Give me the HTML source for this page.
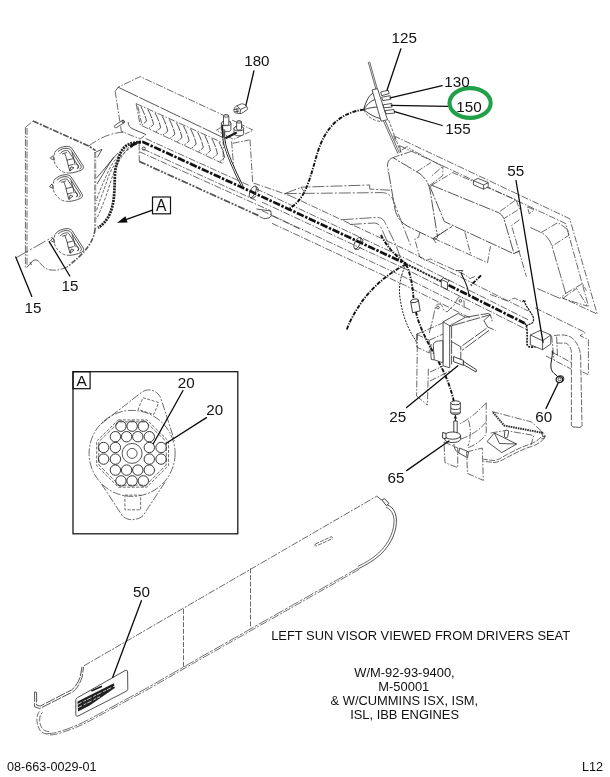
<!DOCTYPE html>
<html><head><meta charset="utf-8"><title>08-663-0029-01</title>
<style>
html,body{margin:0;padding:0;background:#fff;}
body{width:610px;height:777px;overflow:hidden;position:relative;font-family:"Liberation Sans",Arial,sans-serif;}
svg{position:absolute;left:0;top:0;display:block;will-change:transform;}
text{font-family:"Liberation Sans",Arial,sans-serif;fill:#111;}
.n{font-size:15.2px;}
.c{font-size:12.9px;text-anchor:middle;}
.f{font-size:12.6px;}
.l{stroke:#0a0a0a;stroke-width:1.3;fill:none;stroke-linecap:round;}
.t{stroke:#2a2a2a;stroke-width:.8;fill:none;stroke-linejoin:round;}
.tw{stroke:#2a2a2a;stroke-width:.8;fill:#fff;stroke-linejoin:round;}
.d{stroke:#3a3a3a;stroke-width:.75;fill:none;stroke-dasharray:7 1.6 1.6 1.6;stroke-linejoin:round;}
.dw{stroke:#3a3a3a;stroke-width:.75;fill:#fff;stroke-dasharray:7 1.6 1.6 1.6;stroke-linejoin:round;}
.s{stroke:#3a3a3a;stroke-width:.75;fill:none;stroke-dasharray:3 1.5;}
.w{stroke:#111;stroke-width:2;fill:none;stroke-dasharray:4.5 1.3 1.3 1.3;}
.w2{stroke:#111;stroke-width:1.9;fill:none;stroke-dasharray:4 1.3 1.2 1.3;}
.b{stroke:#111;stroke-width:1.25;fill:none;}
</style></head>
<body>
<svg width="610" height="777" viewBox="0 0 610 777">
<rect x="0" y="0" width="610" height="777" fill="#fff"/>


<g>
<!-- panel -->
<path class="d" d="M25.4,127.3 L25.4,267.5 M27,128 L27,266"/>
<path class="d" d="M25.8,127.1 L33,121"/>
<path d="M33,121 L88.8,146.1 L95.6,150.6" fill="none" stroke="#555" stroke-width="1.7" stroke-dasharray="6 1.5 2 1.5"/>
<path class="t" d="M96.2,151.8 L102,149.4 L97.4,157.4"/>
<path d="M95.2,152 L95.2,229" fill="none" stroke="#666" stroke-width="1.9" stroke-dasharray="6 1.4 2 1.4"/><path d="M95.2,153 L95.2,228" fill="none" stroke="#fff" stroke-width=".5"/>
<path d="M95,229 C94,242 84,254 67.2,266.9" fill="none" stroke="#555" stroke-width="1.6" stroke-dasharray="5 1.5 1.5 1.5"/>
<path class="d" d="M67.2,266.9 C60,270.5 52,271 47.5,269.2 C43,267.5 41,264 39.3,262"/>
<path class="t" d="M39.3,262 C37,259.5 35,259.5 32.8,260.8 L26.6,267.6 M30,262 L31.5,265"/>
<path class="d" d="M16.1,257.8 L52.7,237" style="stroke-dasharray:14 2 2 2"/>
<path class="d" d="M88.5,146.3 C100,137 112,133 123.7,132" style="stroke-dasharray:9 2 2 2"/>
<!-- knobs -->
<g transform="translate(67.4 159.3)">
<path d="M-12.5,-7.3 C-10,-11 -5,-13 -0.6,-13 C2,-13 3.5,-12 4.6,-10.8 L15.8,6.6 C16.5,8.5 15.5,10 13.8,10.7 C10,12.5 6,13.5 2.4,13.7 C-2,14 -5,12.5 -6.8,11.2 C-10,8.5 -12.5,5.5 -13,2.5 C-13.8,-1 -13.5,-4.5 -12.5,-7.3Z" fill="#fff"/><path class="t" d="M-12.5,-7.3 C-10,-11 -5,-13 -0.6,-13 C2,-13 3.5,-12 4.6,-10.8 L15.8,6.6 C16.5,8.5 15.5,10 13.8,10.7 C10,12.5 6,13.5 2.4,13.7"/><path class="s" d="M2.4,13.7 C-2,14 -5,12.5 -6.8,11.2 C-10,8.5 -12.5,5.5 -13,2.5 C-13.8,-1 -13.5,-4.5 -12.5,-7.3"/>
<path class="t" d="M-9.5,-7.6 C-6.5,-10.5 -3,-11.3 -0.5,-11 C1.5,-10.8 2.8,-10 3.6,-9 L13.6,6.5 C14.2,8 13.6,9 12.2,9.6"/>
<path class="t" d="M-7.5,-5.5 C-5,-8.6 -1,-9.3 1,-8.3 L11,6.8 C11.4,8 10.6,8.8 9.4,9.2"/>
<path class="t" d="M-2.7,-5.8 C-1,-2 0,2 0.4,4.5 L2.4,11.7 M-5.3,-5.3 L-0.6,-6.8 M-0.6,0.9 L5.5,-0.6 M4.5,-6.8 C6,-3 7,1 7.6,5.5 M0.6,6.3 L6,5 M8.6,4.5 C10.5,5 11.5,7 10.5,9.3 M2.4,11.7 L6.5,8.5 L3.5,7.5Z"/>
<path class="tw" d="M-17.1,-1.1 L-14.5,-3.7 L-13.2,0.9Z"/>
</g>
<g transform="translate(66.5 187.7)">
<path d="M-12.5,-7.3 C-10,-11 -5,-13 -0.6,-13 C2,-13 3.5,-12 4.6,-10.8 L15.8,6.6 C16.5,8.5 15.5,10 13.8,10.7 C10,12.5 6,13.5 2.4,13.7 C-2,14 -5,12.5 -6.8,11.2 C-10,8.5 -12.5,5.5 -13,2.5 C-13.8,-1 -13.5,-4.5 -12.5,-7.3Z" fill="#fff"/><path class="t" d="M-12.5,-7.3 C-10,-11 -5,-13 -0.6,-13 C2,-13 3.5,-12 4.6,-10.8 L15.8,6.6 C16.5,8.5 15.5,10 13.8,10.7 C10,12.5 6,13.5 2.4,13.7"/><path class="s" d="M2.4,13.7 C-2,14 -5,12.5 -6.8,11.2 C-10,8.5 -12.5,5.5 -13,2.5 C-13.8,-1 -13.5,-4.5 -12.5,-7.3"/>
<path class="t" d="M-9.5,-7.6 C-6.5,-10.5 -3,-11.3 -0.5,-11 C1.5,-10.8 2.8,-10 3.6,-9 L13.6,6.5 C14.2,8 13.6,9 12.2,9.6"/>
<path class="t" d="M-7.5,-5.5 C-5,-8.6 -1,-9.3 1,-8.3 L11,6.8 C11.4,8 10.6,8.8 9.4,9.2"/>
<path class="t" d="M-2.7,-5.8 C-1,-2 0,2 0.4,4.5 L2.4,11.7 M-5.3,-5.3 L-0.6,-6.8 M-0.6,0.9 L5.5,-0.6 M4.5,-6.8 C6,-3 7,1 7.6,5.5 M0.6,6.3 L6,5 M8.6,4.5 C10.5,5 11.5,7 10.5,9.3 M2.4,11.7 L6.5,8.5 L3.5,7.5Z"/>
<path class="tw" d="M-17.1,-1.1 L-14.5,-3.7 L-13.2,0.9Z"/>
</g>
<g transform="translate(67.6 241.6)">
<path d="M-12.5,-7.3 C-10,-11 -5,-13 -0.6,-13 C2,-13 3.5,-12 4.6,-10.8 L15.8,6.6 C16.5,8.5 15.5,10 13.8,10.7 C10,12.5 6,13.5 2.4,13.7 C-2,14 -5,12.5 -6.8,11.2 C-10,8.5 -12.5,5.5 -13,2.5 C-13.8,-1 -13.5,-4.5 -12.5,-7.3Z" fill="#fff"/><path class="t" d="M-12.5,-7.3 C-10,-11 -5,-13 -0.6,-13 C2,-13 3.5,-12 4.6,-10.8 L15.8,6.6 C16.5,8.5 15.5,10 13.8,10.7 C10,12.5 6,13.5 2.4,13.7"/><path class="s" d="M2.4,13.7 C-2,14 -5,12.5 -6.8,11.2 C-10,8.5 -12.5,5.5 -13,2.5 C-13.8,-1 -13.5,-4.5 -12.5,-7.3"/>
<path class="t" d="M-9.5,-7.6 C-6.5,-10.5 -3,-11.3 -0.5,-11 C1.5,-10.8 2.8,-10 3.6,-9 L13.6,6.5 C14.2,8 13.6,9 12.2,9.6"/>
<path class="t" d="M-7.5,-5.5 C-5,-8.6 -1,-9.3 1,-8.3 L11,6.8 C11.4,8 10.6,8.8 9.4,9.2"/>
<path class="t" d="M-2.7,-5.8 C-1,-2 0,2 0.4,4.5 L2.4,11.7 M-5.3,-5.3 L-0.6,-6.8 M-0.6,0.9 L5.5,-0.6 M4.5,-6.8 C6,-3 7,1 7.6,5.5 M0.6,6.3 L6,5 M8.6,4.5 C10.5,5 11.5,7 10.5,9.3 M2.4,11.7 L6.5,8.5 L3.5,7.5Z"/>
<path class="tw" d="M-17.1,-1.1 L-14.5,-3.7 L-13.2,0.9Z"/>
</g>
<!-- wire bundle to panel -->
<path d="M141,142 C133,142.5 129,144 126.3,145.6 C122,149 120,153 118.5,158.3 C116,166 115,170 114.9,175.3 C114.6,183 114.6,188 114.2,193.8 C113.6,203 112,209 109.3,215 C106.5,221 102,225.5 97.9,227.8" fill="none" stroke="#222" stroke-width="2.8" stroke-dasharray="2 .9"/>
<path class="s" d="M137,143.5 C124,148 113,160 108,172 C103,183 98.5,193 96.5,201"/>
<path class="s" d="M133,146.5 C122,152 112,166 108,178 C104,190 99,202 96.5,211"/>
<path class="s" d="M128,149 C120,157 114,170 110,184 C106,197 101,210 96.5,219"/>
<path class="t" d="M118,153 C111,160 104,170 96.5,178 M114,157 C108,165 102,176 97,184"/>
</g>

<g>
<path class="d" d="M115.2,91.3 L118.1,87.2 L140.2,76.6 L223.7,115.4"/>
<path class="t" d="M118.1,87.2 L222.9,137.5" style="stroke-dasharray:22 1.5"/>
<path class="d" d="M115.2,91.3 L121.4,131.5 L140.2,138.9 L146,134.6"/>
<path class="t" d="M128,122 C128.5,126 130,127.5 133,129 L146,134.6"/>
<path class="tw" d="M114.6,125.6 L122.2,120.6 C123.3,120 124.8,121.6 124,122.8 L116.4,127.6 C115,128.3 113.6,126.6 114.6,125.6Z"/>
<ellipse class="t" cx="123.2" cy="121.6" rx="1.1" ry="1.5" transform="rotate(-30 123.2 121.6)"/>
<path class="d" d="M136.1,103.6 L222.5,142.7 M136.1,103.6 L140.2,124.9 L222.5,163.4"/>
<path class="d" d="M137.8,106.5 L141.6,123.4"/>
<path class="t" d="M140.9,106.6 Q144.9,113.9 146.5,121.2 L141.7,125.1 M148.0,109.8 Q152.0,117.1 153.6,124.5 L148.8,128.5 M155.1,113.0 Q159.1,120.4 160.7,127.8 L155.9,131.8 M162.2,116.2 Q166.2,123.6 167.8,131.1 L163.0,135.1 M169.3,119.4 Q173.3,126.9 174.9,134.3 L170.1,138.4 M176.4,122.7 Q180.4,130.1 182.0,137.6 L177.2,141.7 M183.5,125.9 Q187.5,133.4 189.1,140.9 L184.3,145.1 M190.6,129.1 Q194.6,136.6 196.2,144.2 L191.4,148.4 M197.7,132.3 Q201.7,139.9 203.3,147.5 L198.5,151.7 M204.8,135.5 Q208.8,143.2 210.4,150.8 L205.6,155.0 M211.9,138.7 Q215.9,146.4 217.5,154.1 L212.7,158.4 M219.0,142.0 Q223.0,149.7 224.6,157.4 L219.8,161.7 " style="stroke-dasharray:9 1.2"/>
<path class="d" d="M223.2,138.4 L223.2,162.5"/>
<path class="d" d="M231.6,141.5 L233.8,168.5 M232.7,143.3 L249,140 M250,139.5 L252.7,183.4"/>
<path class="d" d="M216.3,130.2 L232.7,120.3 L253.2,130.2 L233.5,139.4 Z" style="stroke-dasharray:5 1.4 1.4 1.4"/>
<path class="tw" d="M221.4,123.6 L221.4,129.6 A4.75,2.1375 0 0 0 230.9,129.6 L230.9,123.6 A4.75,2.1375 0 0 0 221.4,123.6Z"/><ellipse class="tw" cx="226.15" cy="123.6" rx="4.75" ry="2.14"/>
<path class="tw" d="M234,128.6 L234,133.6 A4.799999999999997,2.159999999999999 0 0 0 243.6,133.6 L243.6,128.6 A4.799999999999997,2.159999999999999 0 0 0 234,128.6Z"/><ellipse class="tw" cx="238.8" cy="128.6" rx="4.799999999999997" ry="2.16"/>
<path class="tw" d="M223.5,116 L223.5,124.2 A2.6500000000000057,1.1925000000000026 0 0 0 228.8,124.2 L228.8,116 A2.6500000000000057,1.1925000000000026 0 0 0 223.5,116Z"/><ellipse class="tw" cx="226.15" cy="116" rx="2.6500000000000057" ry="1.19"/>
<path class="tw" d="M236.6,122 L236.6,129 A2.450000000000003,1.1025000000000014 0 0 0 241.5,129 L241.5,122 A2.450000000000003,1.1025000000000014 0 0 0 236.6,122Z"/><ellipse class="tw" cx="239.05" cy="122" rx="2.450000000000003" ry="1.10"/>
<path d="M223.9,129.5 C223.4,136 223.8,141 225.2,146 C227.5,154 232,166 242.6,187" fill="none" stroke="#1a1a1a" stroke-width="2.6"/>
<path d="M223.9,129.5 C223.4,136 223.8,141 225.2,146 C227.5,154 232,166 242.6,187" fill="none" stroke="#fff" stroke-width="1"/>
<path d="M236.8,132.4 L225.4,138.2" fill="none" stroke="#1a1a1a" stroke-width="2.2"/>
<path d="M222.3,125 L223,137.5" fill="none" stroke="#1a1a1a" stroke-width="1.6"/>
<path class="tw" d="M233.9,109.3 C234.5,107.5 235.5,106.4 236.8,105.8 L241.3,103.9 C243,103.4 245,104.6 246.4,106.2 C247.4,107.3 247.9,108.4 247.5,109.3 L243.1,112.5 C242,113.2 241,113.6 239.9,113.6 L235.4,112.9 C234.2,112.4 233.6,110.8 233.9,109.3Z"/>
<path class="t" d="M240.6,109.4 L246.8,106.6 M240.6,109.4 L240,113.5 M240.6,109.4 L237,106 M233.9,109.6 L239.6,108.8 M234.6,111.8 L239.2,111 M236.6,108 L237.4,112.6"/>
</g>
<g>
<path class="d" d="M139.2,143.4 L139.2,161 M139.2,151.6 L270.3,210.6 M145.7,138.6 L250.7,186.2 M143,149 L256,200.4"/>
<path d="M139.2,161.4 L262,217.2" fill="none" stroke="#555" stroke-width="1.8" stroke-dasharray="7 1.5 2 1.5 2 1.5"/>
<circle class="t" cx="143.8" cy="148.6" r="1.6"/>
<path class="tw" d="M256.5,209 L270.8,211 L271.4,215.8 C270.5,217.6 268,218.6 265.2,218.5 C263,218.4 261.5,217.8 260.6,217"/>
<path class="d" d="M253.4,183 L290,195.7"/>
<path class="d" d="M290.0,195.7 L405.9,249.8 L524.6,309.2 L528.0,310.9" />
<path class="d" d="M256.0,188.7 L405.9,258.6 L524.6,318.0 L528.0,319.7" />
<path class="d" d="M262.0,202.1 L405.9,269.2 L524.6,328.6 L528.0,330.3" />
<path class="d" d="M262.0,210.7 L405.9,277.8 L470.0,309.9" />
<path class="d" d="M272.0,223.3 L405.9,285.8 L470.0,317.9" />
<path class="d" d="M271.6,215.5 L300,229.2"/>
<path class="w" d="M130,146.5 C134,144 138,142 143,142 L252.6,192.3 L405.9,263.8" style="stroke-width:2.7;stroke-dasharray:7.5 1.6 2.4 1.6"/>
<path class="w" d="M405.9,263.8 L441.5,281.6" style="stroke-width:1.9;stroke-dasharray:2.2 .9;stroke:#222"/>
<path class="w" d="M448.5,285.1 L524.6,323.2" style="stroke-width:2.7;stroke-dasharray:7.5 1.6 2.4 1.6"/>
<path class="w2" d="M524.6,323.4 C527,325 527.4,328 527,344 C527.5,347 530,348.4 538.5,345.6" style="stroke-width:1.6;stroke-dasharray:2 1"/>
<g transform="translate(252.8 191.8) rotate(25)"><ellipse class="tw" cx="0" cy="0" rx="2.6" ry="6.2" style="fill-opacity:.0"/><path class="t" d="M0,-6.2 L2.2,-5.9 M0,6.2 L2.2,5.9 M2.2,-5.9 A2.6,6.2 0 0 1 4.6,-2 M2.2,5.9 A2.6,6.2 0 0 0 4.6,2"/></g>
<g transform="translate(357.4 243.2) rotate(25)"><ellipse class="tw" cx="0" cy="0" rx="2.6" ry="6.2" style="fill-opacity:.0"/><path class="t" d="M0,-6.2 L2.2,-5.9 M0,6.2 L2.2,5.9 M2.2,-5.9 A2.6,6.2 0 0 1 4.6,-2 M2.2,5.9 A2.6,6.2 0 0 0 4.6,2"/></g>
<path class="tw" d="M441.3,279.5 L447.5,282.4 L447.5,289.5 L441.3,286.6Z M441.3,279.5 L443.5,278 L449.5,280.8 L447.5,282.4" style="fill-opacity:0"/>
<path class="w2" d="M364,109.6 C352,111 341,116 333,124.5 C323,135 319,147 315.2,160.5 C312,172 309,182 305.2,190.6 C301,199 295,205.5 287.6,209.9"/>
<path class="w2" d="M381,235 C386,246 396,256 406,264"/>
<path class="w2" d="M406,264.5 C390,272 372,287 361,303 C354,313 349,323 346.5,330.5"/>
<path class="s" d="M406,264.5 C400,276 398.5,288 400,298 C402,312 406,325 413.5,337 L417,343" style="stroke:#222;stroke-width:1;stroke-dasharray:2 1.2"/>
<path class="w2" d="M406,264.5 C410,272 412.5,284 413.5,298 M416,312 C418,322 424,336 432,350 C440,364 449,380 453.8,401"/>
<path class="t" d="M461,272.5 C463,279 468,284 468.9,295.5" style="stroke-width:1.1;stroke:#111"/>
<path class="w2" d="M481,275.4 L470,286.2"/>
<path class="t" d="M456,270.5 L463,270.5 L461,272.5"/>
<path class="t" d="M522.4,301.6 L523.8,300.5 L525.6,301.4 M523.8,300.5 C526,306 530,311 532.8,316 C534,319 533.8,321.5 532,323 L526.2,325.9" style="stroke:#111;stroke-width:1.2;stroke-dasharray:2.2 .8"/>
</g>
<g>
<!-- rod through connector 125 -->
<path class="t" d="M368.2,62 L376,89.5 M369.6,61.6 L377.2,88.6 M383.5,121 L397.8,153.5 M385.1,120.6 L399.4,153" style="stroke-width:.7"/>
<path class="s" d="M388.6,120 L401,153"/>
<!-- wire fan -->
<path class="t" d="M363.7,109.6 C366,100 370,94 374.5,92.2 M363.7,109.6 C368,103 372,100 376.4,99.4 M363.7,109.6 C369,108 374,107 378.6,107 M363.7,109.6 C369,114 375,117.5 380.6,118.6" style="stroke:#111"/>
<path class="s" d="M363.7,109.6 C367,117 374,121 381,121.5"/>
<!-- connector body -->
<path class="tw" d="M372.1,89.9 L377.5,88.6 L387.5,119.7 L381.1,121.2Z"/>
<path class="tw" d="M380.7,92 L388.1,90.3 L389.2,93.5 L381.7,95.7Z M381.7,97.2 L390.2,95.7 L390.7,99.3 L382.8,100.6Z M383.2,104.8 L391.7,103.5 L392,107 L383.9,107.8Z M384.9,110.6 L393.9,109.5 L394.5,113.1 L386,113.8Z"/>
<!-- console outer frame -->
<path class="d" d="M393.6,135.7 L569.7,218.7 L597.2,314.1 L562,297.6"/>
<path class="d" d="M399.5,145.6 L565.7,223.6 L588.4,306.2"/>

<path class="d" d="M393.6,135.7 L395.5,141 M399.5,145.6 L402,157"/>
<path class="d" d="M402,150 L407,146.5 L413.3,150.7"/>
<!-- pod 1 -->
<path class="tw" d="M393,157.6 C389,159 387.2,162 387.6,166.5 L394.6,207 C396,216 400,222 408,226.5 L433,238.6 C436,239.8 437.6,238.6 437.4,236 L430.2,191 C429,183 424,175.5 416.6,171.8 Z" style="stroke-dasharray:12 1.5 2 1.5"/>
<path class="d" d="M393,157.6 L413.3,150.7 L442.8,166.4 L431,176.5 M416.6,171.8 L431,162.5 M429,186 L442.8,175.6 L442.8,166.4 M437.4,236 L447.5,229.5 M433,238.6 L436,243"/>
<!-- pod 2 -->
<path class="tw" d="M431.6,185.2 C430.6,186 430.4,187 430.8,188.6 L444.3,221.5 L514.1,253.9 L505,222.5 C504,217.6 502,214.4 498.4,212.6 Z" style="stroke-dasharray:12 1.5 2 1.5"/>
<path class="d" d="M431.6,185.2 L452.6,172.6 L516,199.8 L498.4,212.6 M516,199.8 L519.5,208.9 L503.8,218.7"/>
<path class="tw" d="M473.4,180.6 L478,178.4 L488.2,182.6 L488.2,186.8 L483.6,189.2 L473.4,184.8Z"/>
<path class="t" d="M473.4,180.6 L483.6,185 L488.2,182.6 M483.6,185 L483.6,189.2"/>
<!-- pod 3 -->
<path class="tw" d="M530.3,227.5 L541.2,232.5 C546,235 550,240 552,246.2 L565.7,293.4 L559.8,298.4 L537.2,288.5 L526.4,276.7 L511.6,225.6 L519.5,219.7 Z" style="stroke:none"/>
<path class="d" d="M530.3,227.5 L541.2,232.5 C546,235 550,240 552,246.2 L565.7,293.4 L559.8,298.4 L537.2,288.5" style="stroke-dasharray:12 1.5 2 1.5"/>
<path class="d" d="M541.2,232.5 L557.9,222.6 L567.7,229.5 L568.7,235.4 L552,246.2 M565.7,293.4 L582.5,283.6 L586.4,290.5 M562.8,298.4 L576.6,288.5 L587.4,306.2 Z"/>
<path class="d" d="M519.5,219.7 L511.6,225.6 L526.4,276.7 M514.6,253.1 L519.5,251.1 M527.4,206.9 L534.3,209.8 L529.3,213.8Z"/>
<!-- lower shelf below pods -->
<path class="t" d="M433.4,238.2 L452.1,226.4" style="stroke-dasharray:8 1.5"/>
<path class="d" d="M419.7,232.3 L418.7,237.2 L414.8,239.2 L419.7,256.9 L425.6,260.8 L430.5,258.9 L434.5,261 L464.9,274.6 L470,278.5 L476,276"/>
<path class="d" d="M433.4,238.2 L487.5,262.8 L490.5,246 M464.9,232.3 L470.8,254.9"/>
<path class="d" d="M514.6,253.1 L519.5,251.1"/>
<!-- phantom outlines left of pods -->
<path class="d" d="M304.8,192.6 L301,187.2 L369.7,185 L369.7,189.1 L390,190.2" style="stroke-dasharray:12 2 2 2"/>
<path class="d" d="M284.8,193.6 L301,187.4 M284.8,193.6 L382.3,192.6 C388,193 391,195.5 392.8,199.3 L411,246.6" style="stroke-dasharray:12 2 2 2"/>
<path class="d" d="M341.6,219.7 L377,217.4 C382,217.6 384,220 385.5,223.5 L395.4,244 L401,259" style="stroke-dasharray:12 2 2 2"/>
<path class="d" d="M349.8,224.5 L374,223 C378,223.2 380,225.4 381.5,228.5 L391,250" style="stroke-dasharray:12 2 2 2"/>
</g>

<g>
<!-- 55 leader, switch -->
<path class="tw" d="M530.3,335 L540.2,330.4 L550.8,335 L550.8,344 L542.6,349.7 L530.3,344.8Z"/>
<path class="t" d="M530.3,335 L542.6,340.7 L550.8,335 M542.6,340.7 L542.6,349.7"/>
<line class="l" x1="516" y1="180.5" x2="543" y2="342.3"/>
<path class="d" d="M490,294.4 L508.2,301.3 L514,298 L523,302.1 M535.2,307.9 L585.3,332.5 L580.1,335.6 L588.4,339.7 L588.4,374.7 L582.6,372"/>
<path class="d" d="M551.6,335.7 L554,360 M556.6,336.6 L557.5,356"/>
<path class="d" d="M554,335.7 C560,334.6 566,334.4 570.5,337 C576,340.4 579.5,347 580.6,355 L582,425.6 M556.6,343.1 L565.6,343.1 C568.6,344 570.8,347 571.4,352 L571.4,425.6" style="stroke-dasharray:6 1.5"/>
<path class="t" d="M571.4,425.6 C573,428 575,426.6 577,427.2 C579,427.8 581,427.6 582,425.6"/>
<path class="d" d="M552,352 L571,362.4 M546,356 L571,369"/>
<!-- wire to 60 grommet -->
<path class="t" d="M552.3,350.5 C553,357 550,363 551,368 C552,373 555.5,374 558,377" style="stroke:#111;stroke-width:1"/>
<ellipse class="tw" cx="560.4" cy="378.8" rx="3.5" ry="3.2" style="stroke:#222;stroke-width:1"/><ellipse class="tw" cx="559.4" cy="379.6" rx="3.3" ry="3" style="stroke:#111;stroke-width:1.1"/>
<ellipse class="t" cx="559.6" cy="379.4" rx="1.6" ry="1.4" style="stroke:#333"/>
<line class="l" x1="558.2" y1="383" x2="546" y2="408.4"/>
<!-- right wall -->

<!-- ears -->
<path class="d" d="M429.3,333 L432.6,319.9 L435.2,308.1 C435.8,305 437,304 439,304 C441.4,304 442.6,306 443.1,309.4 L447,312 L454.3,304.8 L458.2,297.6 C459.4,296.4 461,296.4 462.1,297 C463.6,298.4 464.1,300.4 464.1,302.9 L464.1,308.1" style="stroke-dasharray:9 1.5 2 1.5"/>
<circle class="t" cx="437.9" cy="307.5" r="1.3"/><circle class="t" cx="460.4" cy="300.9" r="1.3"/>
<!-- beam to right -->
<path class="t" d="M451.6,325.8 L490.3,314.7 M465.4,317.3 L488.4,313.4 L490.3,314.7 L492.3,321.2 M483.8,320.6 L487.7,327.1 L495.6,330.4 M483.8,320.6 L490.3,314.7 M486.4,328.4 L460.8,346.8 M489,330.4 L462.1,350.4" style="stroke-dasharray:14 1.5"/>
<!-- vertical plate -->
<path class="tw" d="M443.1,321.9 L458.2,313.4 L465.4,317.3 L449.7,325.8 L449.7,367.8 L443.1,365.8Z"/>
<path class="t" d="M443.1,321.9 L449.7,325.8 M449.7,325.8 L451.6,326.5 L451.6,364.5 M451.6,341.6 L460.8,346.8 L460.8,359.3 L455,362" style="stroke-dasharray:14 1.5"/>
<!-- left box + relay -->
<path class="d" d="M416.6,334.3 L429.3,340.2 L429.3,353 L416.6,347Z M416.6,334.3 L443,322.8 M429.3,340.2 L443,334"/>
<path class="tw" d="M433.3,345.5 C433.3,342.5 436,341 438.5,341 L442.8,340.6 L442.8,362.8 L434.3,359.8Z"/>
<path class="t" d="M431,344 C431,350 430.6,356 431.4,359.6 L434.3,359.8"/>
<!-- plunger -->
<path class="tw" d="M453.6,356.6 L463.4,360.4 L463.4,365.4 L453.6,361.6Z" style="stroke:#111"/>
<path class="tw" d="M463.4,361.4 L476.6,369.8 L476,372 L463.4,364.6Z" style="stroke:#111"/>
<!-- phantom pillar -->
<path class="d" d="M417.5,333.3 L416.6,396 M428.4,368.7 L427.4,405 M416.6,396 L427.4,405 M430,372 L443,366 M430,381 L450,371"/>
<!-- 25, 65 leaders -->
<line class="l" x1="406.6" y1="407.6" x2="457.9" y2="365.7"/>
<line class="l" x1="406.6" y1="470.6" x2="448.9" y2="441"/>
<!-- connector cylinders on harness -->
<path class="tw" d="M410.7,301.6 L418.3,299.8 L420.2,310.8 L412.6,312.8Z" style="stroke:#111"/>
<ellipse class="tw" cx="414.5" cy="300.8" rx="3.9" ry="1.7" transform="rotate(-13 414.5 300.8)" style="stroke:#111"/>
<path class="tw" d="M450.8,402.8 L460.3,402.8 L460.3,413 L450.8,413Z" style="stroke:#111"/>
<ellipse class="tw" cx="455.5" cy="402.8" rx="4.75" ry="2" style="stroke:#111"/>
<path class="t" d="M450.8,408 C452,410 459,410 460.3,408 M450.8,413 C452,415 459,415 460.3,413" style="stroke:#111"/>
<!-- pin + clamp 65 -->
<path class="t" d="M455.4,415 L455.4,422 M454.3,418.5 L455.4,416 L456.5,418.5" style="stroke:#111;stroke-width:1"/>
<path class="tw" d="M453.8,421 L457.2,421 L457.2,436 L453.8,436Z" style="stroke:#111"/>
<ellipse class="tw" cx="452.6" cy="435.6" rx="8" ry="3.6" style="stroke:#111"/>
<path class="t" d="M444.6,435.6 L444.6,439.6 C446,443.5 459,443.5 460.6,439.6 L460.6,435.6" style="stroke:#111"/>
<path class="tw" d="M442.6,432.4 L446,433.4 L446,439 L442.6,438Z" style="stroke:#111"/>
<!-- phantom rects under clamp -->
<path class="d" d="M444,442 L457.7,448 L457.7,467.6 L445,462.7 Z"/>
<path class="d" d="M466.6,451.9 L482.3,448 L483.3,480.4 L467.5,473.5Z"/>
<path class="t" d="M459.7,448 L468.5,451.9 L467.5,457.8 L458.7,452.9Z M454,444 C454,448 456,452 459,453"/>
<!-- curved panel -->
<path class="d" d="M486.2,402.7 C478,412 468,420 458.7,424.3 M486.2,402.7 L486.2,434.2 C481,441 474,446 467,448 M468.5,420.4 C471,428 471,438 468,446 M461,439 C470,436 480,430 486.2,422"/>
<!-- pedal / tray assembly -->
<path d="M493,412.3 L504.3,425.6 L543.4,433" fill="none" stroke="#333" stroke-width="2" stroke-dasharray="1.6 .8"/>
<path class="d" d="M492,411.6 L531.3,421.9 L543.6,433 L544.8,437.9 L541,439"/>
<path class="t" d="M541,431 L543,437 L546,436"/>
<path class="d" d="M544.8,437.9 C540,443 536,445 531.3,446.5 C523,449 516,453 509.2,456.3 C504,459 500,462 494,462.6 L483.4,461.2 M541,437 C537,441.4 533,443 529.5,444.4 C521,447 514,451 507.5,454.3 C502,457 499,460 494,460.6 L483.4,459.2" style="stroke-dasharray:6 1.4"/>
<path class="d" d="M490.7,433 L505.5,430.5 L533.8,435.4 L531,445"/>
<path class="t" d="M487,441.6 L494.4,433 L516.6,444 L501.8,452.6Z M494.4,433 L499.5,443.5 L516.6,444"/>
<path class="tw" d="M504.8,431.2 C505.4,429.4 508.4,430 508.6,432 L507.6,437 C507,438.5 504.4,438 504.4,436.2Z"/>
</g>

<g>
<circle class="d" cx="132.1" cy="453.4" r="43" style="stroke-dasharray:8 1.6 2 1.6"/>
<path class="d" d="M101,424 L141,392.8 C146,389 155,387.5 160.7,397.7 L174.6,441 M101.5,484 L122.3,515.7 C127,521 137,521 143,515.7 L165.5,481.5" style="stroke-dasharray:8 1.6 2 1.6"/>
<path class="s" d="M143,397.7 L158.7,402.6 L153.8,414.4 L138,409.5Z"/>
<path class="s" d="M124.9,495.1 L140.6,495.1 L140.6,509.8 L124.9,509.8Z"/>
<path class="s" d="M118.4,419.9 L146.9,419.9 L168.5,441 L168.5,465.6 L146.9,487.2 L118.4,487.2 L96.7,465.6 L96.7,441Z"/>
<path class="s" d="M119.2,421.9 L146.0,421.9 L166.3,441.7 L166.3,464.9 L146.0,485.2 L119.2,485.2 L98.8,464.9 L98.8,441.7Z" style="stroke-dasharray:4 1.5"/>
<circle class="t" cx="120.9" cy="426.2" r="5.2" style="stroke:#222;stroke-width:.9"/>
<circle class="t" cx="132.1" cy="426.2" r="5.2" style="stroke:#222;stroke-width:.9"/>
<circle class="t" cx="143.3" cy="426.2" r="5.2" style="stroke:#222;stroke-width:.9"/>
<circle class="t" cx="115.4" cy="436.7" r="5.2" style="stroke:#222;stroke-width:.9"/>
<circle class="t" cx="126.6" cy="436.7" r="5.2" style="stroke:#222;stroke-width:.9"/>
<circle class="t" cx="137.8" cy="436.7" r="5.2" style="stroke:#222;stroke-width:.9"/>
<circle class="t" cx="149.3" cy="436.7" r="5.2" style="stroke:#222;stroke-width:.9"/>
<circle class="t" cx="103.6" cy="447.5" r="5.2" style="stroke:#222;stroke-width:.9"/>
<circle class="t" cx="115.4" cy="447.5" r="5.2" style="stroke:#222;stroke-width:.9"/>
<circle class="t" cx="149.3" cy="447.5" r="5.2" style="stroke:#222;stroke-width:.9"/>
<circle class="t" cx="161.1" cy="447.5" r="5.2" style="stroke:#222;stroke-width:.9"/>
<circle class="t" cx="103.6" cy="459.1" r="5.2" style="stroke:#222;stroke-width:.9"/>
<circle class="t" cx="115.4" cy="459.1" r="5.2" style="stroke:#222;stroke-width:.9"/>
<circle class="t" cx="149.3" cy="459.1" r="5.2" style="stroke:#222;stroke-width:.9"/>
<circle class="t" cx="161.1" cy="459.1" r="5.2" style="stroke:#222;stroke-width:.9"/>
<circle class="t" cx="115.4" cy="470.1" r="5.2" style="stroke:#222;stroke-width:.9"/>
<circle class="t" cx="126.6" cy="470.1" r="5.2" style="stroke:#222;stroke-width:.9"/>
<circle class="t" cx="137.8" cy="470.1" r="5.2" style="stroke:#222;stroke-width:.9"/>
<circle class="t" cx="149.3" cy="470.1" r="5.2" style="stroke:#222;stroke-width:.9"/>
<circle class="t" cx="120.9" cy="480.9" r="5.2" style="stroke:#222;stroke-width:.9"/>
<circle class="t" cx="132.1" cy="480.9" r="5.2" style="stroke:#222;stroke-width:.9"/>
<circle class="t" cx="143.3" cy="480.9" r="5.2" style="stroke:#222;stroke-width:.9"/>
<circle class="t" cx="132.1" cy="453.4" r="10"/>
<circle class="t" cx="132.1" cy="453.4" r="5"/>
</g>
<g>
<!-- top edge -->
<path class="s" d="M84,665.8 L376.7,496.2" style="stroke-dasharray:7 1.5 2 1.5"/>
<!-- right end -->
<path class="t" d="M376.7,496.2 L382,500.2 M387.5,505.2 C392,506.5 395.6,511 396.4,519 C397,530 392,544 380,555 C373,561 366,565 358.7,568.6" style="stroke-width:.8"/>
<path class="t" d="M385.8,507.4 C390,508.6 393.2,512.5 394,519.4 C394.6,529 390,542.4 378.6,553 C372,559 365,563 358,566.4" style="stroke-width:.7"/>
<path class="tw" d="M382,500.2 L384.4,498.6 L389,503.4 L386.4,505.6Z" style="stroke:#111"/>
<!-- bottom edge double -->
<path class="t" d="M358.7,568.6 L200,658.5 L147.9,688.4 L90,719.8 C80,725 72,728.4 62,731.6 C56,733.6 51,734.5 47.7,734.2" transform="translate(-.4,-.7)" style="stroke:#444;stroke-width:.75;stroke-dasharray:11 1.6 3 1.6"/>
<path class="t" d="M358.7,568.6 L200,658.5 L147.9,688.4 L90,719.8 C80,725 72,728.4 62,731.6 C56,733.6 51,734.5 47.7,734.2" transform="translate(.4,.75)" style="stroke:#444;stroke-width:.75;stroke-dasharray:8 1.6 2 1.6"/>
<!-- left end -->
<path class="d" d="M47.7,734.2 C43,733.5 40.5,731.5 39.2,728.9 C37.5,725.5 36.6,722 37,718.2 C37.4,714.5 38.5,712 40.5,710.5 M49,731.6 C45,731.2 42.8,729.6 41.6,727.4 C40,724.6 39.4,721.6 39.7,718.6 C40,715.6 41,713.4 42.6,712.2" style="stroke-dasharray:6 1.5"/>
<!-- hook clip -->
<path class="t" d="M34.6,691.8 L34.6,706.8 L39.7,708.6 L72.5,692 C77,689 80,683 82,677.6 L83.6,667 M36.6,692.4 L36.6,705 L40,706.2 L71.5,690 C75.5,687 78.4,682 80.2,677 L82,666.8 M34.6,691.8 L36.6,692.4" style="stroke-dasharray:10 1.4"/>
<!-- vertical dashed -->
<path class="s" d="M183.5,609 L183.5,668.8 M250.5,568.4 L250.5,628.4" style="stroke-dasharray:5 1.6"/>
<!-- slot -->
<path class="s" d="M315.4,544 L331,536.8 C332.4,536.6 332.8,538 331.8,538.8 L316.4,546 C315,546.4 314.4,544.8 315.4,544Z" style="stroke-dasharray:4 1.2"/>
<!-- label -->
<path class="tw" d="M77.6,697.6 L125,670.6 C126.6,669.8 127.6,670.4 127.6,672 L127.8,688.6 C127.8,690 127.2,690.8 126,691.4 L78,716 C76.6,716.6 75.8,716 75.8,714.6 L75.8,700.4 C75.8,699 76.4,698.2 77.6,697.6Z" style="stroke:#222"/>
<path d="M77.5,701.4 L113.8,683.2 L114.8,688 L89.3,705.8 L78,711.4Z" fill="#222"/>
<path d="M77.2,704.6 L115,685.8 M77.4,708 L100,696.6" stroke="#fff" stroke-width=".7" fill="none" stroke-dasharray="5 2 3 1"/>
<path d="M91.4,691 L102,686.2" stroke="#1c1c1c" stroke-width="1.6" fill="none"/>
</g>


<!-- leaders -->
<g class="l">
<line x1="253.9" y1="71" x2="245.9" y2="105.3"/>
<line x1="400.9" y1="48.8" x2="387" y2="90.3"/>
<line x1="442.2" y1="85.6" x2="390.2" y2="97.8"/>
<line x1="447.8" y1="106.3" x2="391.3" y2="105.3"/>
<line x1="442.2" y1="125.5" x2="394.5" y2="111.6"/>
<line x1="49.2" y1="241.6" x2="69.8" y2="276"/>
<line x1="15.7" y1="257" x2="31.8" y2="296.4"/>
<line x1="183" y1="390.5" x2="153.4" y2="443.5"/>
<line x1="206.4" y1="417.6" x2="165.9" y2="443.5"/>
<line x1="141.4" y1="600.7" x2="112.7" y2="677.3"/>
</g>

<!-- green highlight -->
<ellipse cx="470.1" cy="103" rx="20.6" ry="14.9" fill="none" stroke="#22a049" stroke-width="4.1"/>

<!-- A reference box + arrow -->
<rect class="b" x="152.5" y="197" width="18" height="16.8" style="stroke-width:1.2"/>
<line class="l" x1="152.5" y1="210.2" x2="121" y2="221.3"/>
<path d="M117.2 222.8 L125.4 216.2 L127.6 222.4 Z" fill="#0a0a0a"/>

<!-- detail A frame -->
<rect class="b" x="73" y="371.7" width="164.8" height="162.1"/>
<rect class="b" x="73" y="371.7" width="17.1" height="17" style="stroke-width:1.2"/>

<!-- labels -->
<g class="n">
<text transform="translate(244.2,65.9) scale(1,1)">180</text>
<text transform="translate(391.6,43.1) scale(1,1)">125</text>
<text transform="translate(444.3,87.3) scale(1,1)">130</text>
<text transform="translate(456.3,112.1) scale(1,1)">150</text>
<text transform="translate(445.3,133.5) scale(1,1)">155</text>
<text transform="translate(507.2,176.4) scale(1,1)">55</text>
<text x="155.9" y="211.2" style="font-size:15.6px">A</text>
<text transform="translate(61.6,290.5) scale(1,1)">15</text>
<text transform="translate(24.6,312.8) scale(1,1)">15</text>
<text x="76.4" y="385.6" style="font-size:15.4px">A</text>
<text transform="translate(177.7,388) scale(1,1)">20</text>
<text transform="translate(206.3,414.5) scale(1,1)">20</text>
<text transform="translate(389.2,422) scale(1,1)">25</text>
<text transform="translate(535.2,422) scale(1,1)">60</text>
<text transform="translate(387.5,483.2) scale(1,1)">65</text>
<text transform="translate(133.1,597.4) scale(1,1)">50</text>
</g>
<text class="f" x="271.2" y="640.3" style="font-size:12.9px">LEFT SUN VISOR VIEWED FROM DRIVERS SEAT</text>
<text class="c" x="404.5" y="676.9">W/M-92-93-9400,</text>
<text class="c" x="403.8" y="690.9">M-50001</text>
<text class="c" x="404.3" y="704.8">&amp; W/CUMMINS ISX, ISM,</text>
<text class="c" x="404.6" y="718.7">ISL, IBB ENGINES</text>
<text class="f" x="7" y="770.8">08-663-0029-01</text>
<text class="f" x="582" y="770.8">L12</text>
</svg>
</body></html>
